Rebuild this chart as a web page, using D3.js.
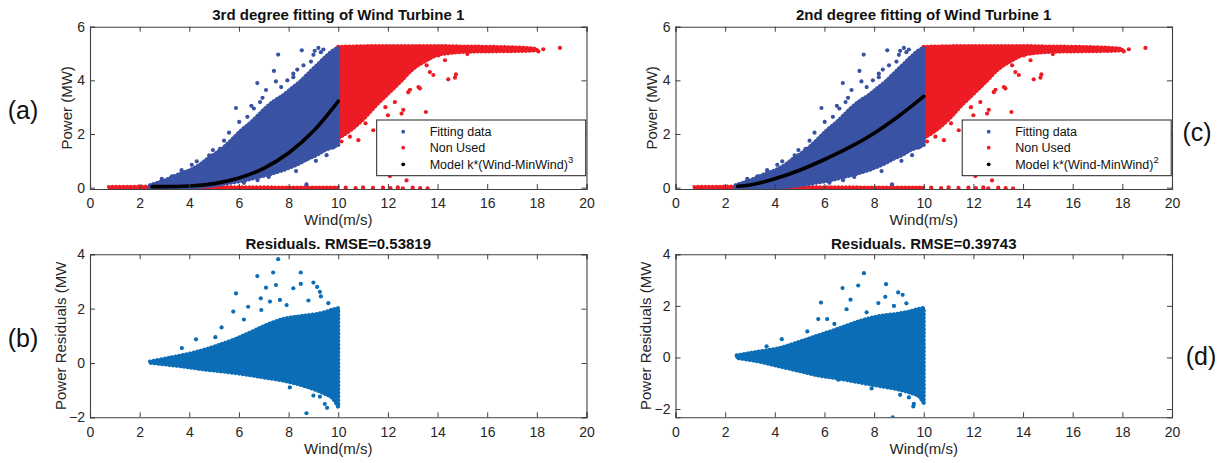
<!DOCTYPE html>
<html>
<head>
<meta charset="utf-8">
<script src="https://cdn.jsdelivr.net/npm/d3@7"></script>
<style>
  html, body { margin: 0; padding: 0; background: #fff; }
  svg { display: block; font-family: "Liberation Sans", Arial, Helvetica, sans-serif; }
</style>
</head>
<body>
<svg id="fig" width="1225" height="463"></svg>
<script>
// ---------- Power curve data (wind in m/s, power in MW) ----------
// Dense "fitting data" cloud, bounded per wind value
const fitWind  = [2.42, 2.75, 3.09, 3.43, 3.76, 4.09, 4.43, 4.77, 5.10, 5.44, 5.77, 6.11, 6.44, 6.78, 7.11, 7.45, 7.79, 8.12, 8.46, 8.79, 9.13, 9.46, 9.80, 10.0];
const fitUpper = [0.09, 0.19, 0.30, 0.44, 0.56, 0.68, 0.86, 1.10, 1.30, 1.55, 1.84, 2.15, 2.40, 2.70, 3.00, 3.25, 3.45, 3.70, 3.95, 4.25, 4.55, 4.85, 5.12, 5.22];
const fitLower = [0.00, 0.00, 0.00, 0.00, 0.00, 0.01, 0.03, 0.06, 0.10, 0.15, 0.20, 0.25, 0.32, 0.40, 0.47, 0.56, 0.66, 0.78, 0.92, 1.08, 1.22, 1.40, 1.52, 1.58];

// Sparse fitting-data points outside the dense cloud [wind, power]
const fitOutliers = [
  [7.58, 4.96], [8.53, 5.12], [9.20, 5.21], [7.41, 4.35], [6.74, 3.90],
  [7.49, 3.96], [7.09, 3.64], [8.19, 4.25], [8.19, 4.12], [5.88, 2.97],
  [6.34, 2.64], [6.01, 2.45], [6.85, 3.19], [5.24, 1.45], [4.30, 0.98],
  [3.69, 0.65], [2.89, 0.33], [8.72, 0.12], [8.60, 4.56], [8.90, 4.70],
  [7.85, 0.78], [9.53, 1.21], [9.80, 1.50], [5.60, 2.05], [6.50, 3.05],
  [7.95, 4.00], [9.00, 4.95], [9.40, 5.15], [4.80, 1.20], [3.30, 0.42],
  [6.20, 0.18], [7.20, 0.40], [9.05, 5.10], [9.30, 5.05], [8.35, 4.40],
  [7.70, 3.75], [6.95, 3.35], [6.60, 2.95], [5.40, 1.75], [4.95, 1.40],
  [4.10, 0.85], [9.10, 1.00], [8.30, 0.62], [6.75, 0.28]
];

// Dense "non used" cloud above rated wind speed
const nonUsedWind  = [10, 10.5, 11, 11.5, 12, 12.5, 13, 13.5, 14, 14.5, 15, 16, 17, 17.5, 18];
const nonUsedUpper = [5.25, 5.26, 5.27, 5.28, 5.28, 5.28, 5.28, 5.28, 5.28, 5.27, 5.26, 5.25, 5.23, 5.21, 5.17];
const nonUsedLower = [1.85, 2.15, 2.55, 3.05, 3.50, 3.95, 4.42, 4.72, 4.95, 5.02, 5.06, 5.08, 5.09, 5.10, 5.12];

// Non used points lying at zero power (turbine stopped)
const zeroWind  = [0.75, 2, 4, 6, 8, 10];
const zeroUpper = [0.04, 0.05, 0.04, 0.03, 0.02, 0.02];
const zeroLower = [-0.05, -0.06, -0.05, -0.04, -0.03, -0.03];

// Sparse non used points [wind, power]
const nonUsedOutliers = [
  [18.93, 5.21], [18.26, 5.16], [18.06, 5.08], [14.03, 4.93], [13.56, 4.56],
  [13.69, 4.31], [14.43, 4.04], [14.74, 4.22], [13.23, 3.75], [12.82, 3.56],
  [12.55, 2.76], [13.53, 2.82], [12.28, 3.19], [11.41, 2.14], [10.81, 1.77],
  [12.75, 0.27], [12.08, 0.43], [14.70, 4.10], [13.83, 4.20], [13.29, 3.70],
  [12.89, 3.65], [12.62, 2.90], [10.47, 1.90], [10.13, 1.72], [11.10, 2.40],
  [11.90, 3.00], [10.30, 0.00], [10.70, -0.02], [11.00, 0.01], [11.40, -0.01],
  [11.80, 0.00], [12.10, -0.02], [12.40, 0.01], [12.60, -0.03], [13.00, 0.00],
  [13.30, -0.02], [13.60, -0.03], [14.30, 4.75], [15.20, 4.98], [12.00, 2.70]
];

// Fitted models k*(Wind-MinWind)^n
const modelWind  = [2.5, 3, 4, 5, 6, 7, 8, 9, 10];
const cubicModel = [0.04, 0.04, 0.06, 0.15, 0.36, 0.72, 1.29, 2.11, 3.22];
const quadModel  = [0.05, 0.10, 0.33, 0.65, 1.05, 1.50, 2.03, 2.67, 3.40];

// ---------- Residuals (MW) ----------
const resid3Wind  = [2.42, 3.08, 3.75, 4.43, 5.10, 5.77, 6.45, 7.12, 7.79, 8.46, 9.12, 9.50, 9.80, 10.0];
const resid3Upper = [0.05, 0.17, 0.29, 0.44, 0.63, 0.85, 1.12, 1.40, 1.62, 1.72, 1.80, 1.88, 1.97, 2.02];
const resid3Lower = [0.01, -0.06, -0.13, -0.22, -0.29, -0.36, -0.45, -0.55, -0.65, -0.80, -1.00, -1.15, -1.32, -1.62];

const resid2Wind  = [2.47, 3.37, 4.17, 4.97, 5.77, 6.58, 7.38, 8.18, 8.98, 9.50, 9.78, 10.0];
const resid2Upper = [0.08, 0.23, 0.36, 0.60, 0.86, 1.12, 1.40, 1.60, 1.70, 1.80, 1.88, 1.92];
const resid2Lower = [-0.02, -0.16, -0.34, -0.52, -0.70, -0.82, -0.96, -1.10, -1.24, -1.38, -1.48, -1.76];

const resid3Outliers = [
  [7.58, 3.82], [6.74, 3.20], [7.38, 3.33], [8.49, 3.33], [7.09, 2.77],
  [7.49, 2.87], [5.88, 2.56], [8.49, 2.91], [9.00, 2.96], [8.19, 2.75],
  [6.88, 2.38], [5.77, 1.89], [6.37, 2.07], [5.30, 1.31], [4.27, 0.87],
  [8.72, -1.85], [9.46, -1.51], [9.55, -1.65], [9.26, -1.24], [6.10, -0.36],
  [6.58, -0.44], [9.26, 2.62], [7.25, 2.26], [7.65, 2.32], [7.92, 2.13],
  [9.15, 2.80], [9.30, 2.45], [3.70, 0.55], [6.90, 1.95], [8.80, 2.30],
  [9.60, 2.20], [6.20, 1.60], [5.05, 0.95], [8.05, -0.90], [9.00, -1.20]
];
const resid2Outliers = [
  [7.59, 3.27], [6.73, 2.69], [7.36, 2.79], [8.48, 2.84], [5.86, 2.13],
  [7.05, 2.24], [8.17, 2.11], [8.97, 2.52], [9.15, 2.43], [6.89, 1.87],
  [6.11, 1.49], [5.75, 1.49], [5.31, 1.01], [4.28, 0.71], [3.67, 0.43],
  [8.75, -2.32], [9.58, -1.90], [9.60, -1.80], [6.56, -0.86], [8.45, 2.35],
  [9.30, 2.10], [7.70, 1.75], [9.05, -1.45], [8.80, 2.00], [6.40, 1.30],
  [7.90, -1.20], [9.40, -1.55]
];

// ---------- Axis ticks and text ----------
const windTicks  = [0, 2, 4, 6, 8, 10, 12, 14, 16, 18, 20];
const powerTicks = [0, 2, 4, 6];
const residTicks = [-2, 0, 2, 4];
const legendItems = ["Fitting data", "Non Used", "Model k*(Wind-MinWind)"];

// ---------- Colours ----------
const fitColor = "#3a52a3";
const nonUsedColor = "#ed1c24";
const residColor = "#0b6db6";
const axisColor = "#404040";

const svg = d3.select("#fig");
let clipId = 0;

function makeAxes(box, xDomain, yDomain, yTicks) {
  const x = d3.scaleLinear().domain(xDomain).range([box.left, box.right]);
  const y = d3.scaleLinear().domain(yDomain).range([box.bottom, box.top]);
  const g = svg.append("g");
  const id = "clip" + (clipId++);
  svg.append("clipPath").attr("id", id).append("rect")
    .attr("x", box.left).attr("y", box.top)
    .attr("width", box.right - box.left).attr("height", box.bottom - box.top);
  const plot = g.append("g").attr("clip-path", `url(#${id})`);
  return { x, y, g, plot, box, yTicks };
}

function finishAxes(ax, xPad) {
  const { x, y, g, box, yTicks } = ax;
  const tickLen = 5;
  const axes = g.append("g");
  axes.append("g").attr("transform", `translate(0,${box.bottom})`)
    .call(d3.axisBottom(x).tickValues(windTicks).tickSize(-tickLen).tickPadding(xPad).tickFormat(d3.format("d")));
  axes.append("g").attr("transform", `translate(0,${box.top})`)
    .call(d3.axisTop(x).tickValues(windTicks).tickSize(-tickLen).tickFormat(""));
  axes.append("g").attr("transform", `translate(${box.left},0)`)
    .call(d3.axisLeft(y).tickValues(yTicks).tickSize(-tickLen).tickPadding(5).tickFormat(d3.format("d")));
  axes.append("g").attr("transform", `translate(${box.right},0)`)
    .call(d3.axisRight(y).tickValues(yTicks).tickSize(-tickLen).tickFormat(""));
  axes.selectAll(".domain").attr("stroke", axisColor).attr("stroke-width", 1.1);
  axes.selectAll(".tick line").attr("stroke", axisColor).attr("stroke-width", 1);
  axes.selectAll(".tick text").attr("fill", "#262626").style("font-size", "14px")
    .style("font-family", '"Liberation Sans", Arial, sans-serif');
}

// filled envelope of a dense scatter cloud, with a beaded outline for its speckled edge
function cloud(ax, xs, up, lo, color, bead = 4.2) {
  const data = xs.map((w, i) => ({ w, u: up[i], l: lo[i] }));
  const area = d3.area().x(d => ax.x(d.w)).y0(d => ax.y(d.l)).y1(d => ax.y(d.u))
    .curve(d3.curveMonotoneX);
  ax.plot.append("path").datum(data).attr("d", area)
    .attr("fill", color).attr("stroke", color).attr("stroke-width", 1.5);
  ax.plot.append("path").datum(data).attr("d", area)
    .attr("fill", "none").attr("stroke", color).attr("stroke-width", bead)
    .attr("stroke-linecap", "round").attr("stroke-dasharray", "0.1 3.6");
}

function dots(ax, pts, color, r = 2.1) {
  ax.plot.append("g").selectAll("circle").data(pts).join("circle")
    .attr("cx", d => ax.x(d[0])).attr("cy", d => ax.y(d[1])).attr("r", r).attr("fill", color);
}

function text(x, y, str, opts = {}) {
  const t = svg.append("text").attr("x", x).attr("y", y).text(str)
    .attr("text-anchor", opts.anchor || "middle")
    .style("font-size", (opts.size || 15) + "px")
    .attr("fill", opts.fill || "#262626");
  if (opts.bold) t.style("font-weight", "bold");
  if (opts.rotate) t.attr("transform", `rotate(-90,${x},${y})`);
  return t;
}

function powerPanel(left, title, model, exponent, tag) {
  const box = { left, right: left + 496.5, top: 26.7, bottom: 189 };
  const ax = makeAxes(box, [0, 20], [-0.05, 6], powerTicks);
  cloud(ax, zeroWind, zeroUpper, zeroLower, nonUsedColor, 3.4);
  cloud(ax, nonUsedWind, nonUsedUpper, nonUsedLower, nonUsedColor);
  dots(ax, nonUsedOutliers, nonUsedColor);
  cloud(ax, fitWind, fitUpper, fitLower, fitColor);
  dots(ax, fitOutliers, fitColor);
  ax.plot.append("path").datum(modelWind.map((w, i) => [w, model[i]]))
    .attr("d", d3.line().x(d => ax.x(d[0])).y(d => ax.y(d[1])).curve(d3.curveMonotoneX))
    .attr("fill", "none").attr("stroke", "#000").attr("stroke-width", 3.6)
    .attr("stroke-linecap", "round");
  finishAxes(ax, 9);

  const cx = (box.left + box.right) / 2;
  text(cx, 19.5, title, { bold: true, fill: "#111" });
  text(cx, 225, "Wind(m/s)");
  text(box.left - 18, (box.top + box.bottom) / 2, "Power (MW)", { rotate: true });
  text(tag.x, tag.y, tag.label, { size: 25, fill: "#111" });

  // legend
  const lg = { x: box.left + 286.7, y: 120, w: 209, h: 55.7 };
  svg.append("rect").attr("x", lg.x).attr("y", lg.y).attr("width", lg.w).attr("height", lg.h)
    .attr("fill", "#fff").attr("stroke", "#222").attr("stroke-width", 1);
  const colors = [fitColor, nonUsedColor, "#000"];
  const rows = [131.7, 147.7, 164.3];
  legendItems.forEach((label, i) => {
    svg.append("circle").attr("cx", lg.x + 26.5).attr("cy", rows[i]).attr("r", 1.9).attr("fill", colors[i]);
    const t = text(lg.x + 53, rows[i] + 4.5, label, { anchor: "start", size: 12.5, fill: "#111" });
    if (i === 2) {
      t.append("tspan").attr("dy", -6).style("font-size", "9.5px").text(exponent);
    }
  });
}

function residPanel(left, title, yDomain, xs, up, lo, outliers, tag) {
  const box = { left, right: left + 496.5, top: 254.3, bottom: 417.3 };
  const ax = makeAxes(box, [0, 20], yDomain, residTicks);
  cloud(ax, xs, up, lo, residColor);
  dots(ax, outliers, residColor);
  finishAxes(ax, 10);
  const cx = (box.left + box.right) / 2;
  text(cx, 249, title, { bold: true, fill: "#111" });
  text(cx, 454, "Wind(m/s)");
  text(box.left - 24, (box.top + box.bottom) / 2, "Power Residuals (MW", { rotate: true });
  text(tag.x, tag.y, tag.label, { size: 25, fill: "#111" });
}

powerPanel(90, "3rd degree fitting of Wind Turbine 1", cubicModel, "3", { x: 23, y: 119, label: "(a)" });
residPanel(90, "Residuals. RMSE=0.53819", [-2, 4], resid3Wind, resid3Upper, resid3Lower, resid3Outliers, { x: 23, y: 347, label: "(b)" });
powerPanel(675.5, "2nd degree fitting of Wind Turbine 1", quadModel, "2", { x: 1197, y: 141, label: "(c)" });
residPanel(675.5, "Residuals. RMSE=0.39743", [-2.32, 4], resid2Wind, resid2Upper, resid2Lower, resid2Outliers, { x: 1201, y: 365, label: "(d)" });
</script>
</body>
</html>
